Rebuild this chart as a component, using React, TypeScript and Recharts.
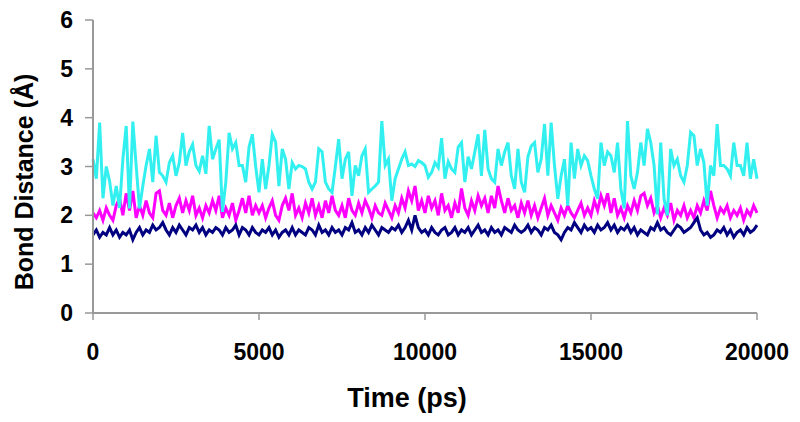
import React from 'react';
import { LineChart, Line, XAxis, YAxis } from 'recharts';

// time axis, one sample every 100 ps
const timePs: number[] = Array.from({ length: 201 }, (_, i) => i * 100);

const cyanSeries: number[] = [
  3.15, 2.75, 3.9, 2.35, 3.0, 2.7, 2.2, 2.6, 2.15, 3.15,
  3.83, 2.14, 3.92, 3.02, 2.14, 2.6, 3.02, 3.36, 2.68, 3.63,
  2.88, 2.81, 2.68, 3.08, 3.22, 2.81, 3.08, 3.69, 3.02, 3.3,
  3.45, 3.02, 2.9, 3.22, 2.85, 3.83, 3.15, 3.36, 3.55, 2.07,
  2.68, 3.69, 3.36, 3.49, 3.02, 3.02, 2.68, 3.4, 3.66, 3.0,
  2.47, 3.15, 2.54, 3.02, 3.66, 3.5, 2.6, 3.36, 3.15, 2.54,
  3.08, 2.95, 3.02, 3.0, 2.95, 2.68, 2.54, 2.68, 3.36, 3.3,
  2.68, 2.54, 2.47, 3.0, 3.56, 2.75, 3.15, 3.3, 2.4, 3.02,
  2.81, 3.22, 3.36, 2.47, 2.54, 2.6, 2.68, 3.93, 3.02, 3.15,
  2.3, 2.75, 2.95, 3.15, 3.3, 3.02, 3.05, 3.0, 3.12, 3.08,
  3.02, 2.78, 2.88, 3.08, 2.98, 3.58, 2.75, 3.1, 2.95, 2.88,
  3.4, 3.49, 2.68, 3.2, 2.95, 3.3, 3.66, 2.81, 3.75, 2.95,
  2.75, 2.68, 3.36, 3.02, 3.3, 3.49, 2.81, 2.54, 3.36, 2.68,
  2.47, 3.2, 3.42, 3.49, 2.88, 3.15, 3.87, 2.81, 3.9, 3.02,
  2.34, 2.81, 3.15, 2.2, 3.49, 2.75, 3.36, 3.02, 3.22, 3.12,
  2.81, 2.54, 2.34, 3.49, 3.02, 3.3, 3.22, 2.88, 3.49, 2.54,
  2.14, 3.93, 2.81, 2.54, 2.88, 3.49, 3.02, 3.77, 3.49, 3.02,
  2.02, 3.49, 2.34, 2.0, 3.36, 3.02, 3.15, 2.81, 2.68, 3.02,
  3.7, 3.63, 3.02, 3.36, 3.08, 2.2, 3.02, 2.81, 3.87, 3.02,
  3.02, 2.95, 2.81, 3.49, 3.02, 3.02, 2.81, 3.49, 2.75, 3.15,
  2.75,
];

const magentaSeries: number[] = [
  2.05, 1.95, 2.1, 1.9, 2.15, 2.0, 1.9, 2.2, 2.35, 2.0,
  2.45, 2.1, 2.5, 1.95, 2.2, 2.0, 2.3, 2.05, 1.95, 2.45,
  2.5, 2.1, 2.0, 2.25, 1.95, 2.2, 2.35, 2.05, 2.3, 2.1,
  2.4, 2.0, 2.15, 1.95, 2.2, 2.05, 2.3, 2.1, 2.4, 1.95,
  2.15, 2.0, 2.25, 1.9, 2.1, 2.35, 2.05, 2.4, 2.0, 2.2,
  2.05, 2.2, 1.95, 2.15, 2.3, 2.0, 1.9, 2.2, 2.35, 2.1,
  2.45, 2.0, 2.15, 1.95, 2.25, 2.05, 2.35, 2.0, 2.2, 1.95,
  2.3, 2.05, 2.4, 2.1, 2.0, 2.2, 1.95, 2.35, 2.1, 2.0,
  2.25, 2.05, 2.3, 2.15, 1.95, 2.2, 2.05, 2.0, 2.25, 2.1,
  1.95, 2.2, 2.05, 2.35, 2.15, 2.5, 2.3, 2.6, 2.1, 2.3,
  2.05, 2.4, 2.15, 2.3, 2.0, 2.45, 2.1, 2.2, 1.95, 2.25,
  2.05, 2.55, 2.15, 2.0, 2.3, 2.1, 2.4, 2.2, 2.35, 2.05,
  2.4, 2.15, 2.6, 2.3, 2.05, 2.35, 2.1, 2.2, 1.95, 2.25,
  2.05, 2.3, 2.0, 2.2, 1.95, 2.15, 2.35, 2.0, 2.2, 2.05,
  1.9, 2.15, 2.0, 2.2, 2.05, 1.95, 2.1, 2.25, 2.0, 2.15,
  2.0, 2.3, 2.1, 2.4, 2.2, 2.45, 2.05, 2.35, 2.0, 2.15,
  1.95, 2.2, 2.05, 2.3, 2.1, 2.4, 2.45, 2.2, 2.35, 2.05,
  2.2, 1.95, 2.15, 2.0, 2.25, 1.9, 2.1, 2.0, 2.2, 1.95,
  2.1, 1.95, 2.2, 2.05, 2.3, 2.1, 2.5, 2.2, 1.95, 2.15,
  2.05, 2.2, 1.95, 2.1, 2.0, 2.15, 1.9, 2.1, 2.0, 2.2,
  2.05,
];

const navySeries: number[] = [
  1.6, 1.7, 1.55, 1.65, 1.6, 1.75, 1.6, 1.7, 1.55, 1.65,
  1.6, 1.7, 1.5, 1.65, 1.75, 1.6, 1.7, 1.65, 1.8, 1.7,
  1.75, 1.85, 1.7, 1.6, 1.75, 1.65, 1.8, 1.7, 1.6, 1.75,
  1.7, 1.8, 1.65, 1.75, 1.6, 1.7, 1.65, 1.75, 1.7, 1.6,
  1.75, 1.65, 1.7, 1.8, 1.6, 1.75, 1.7, 1.6, 1.75, 1.65,
  1.6, 1.7, 1.65, 1.75, 1.6, 1.7, 1.55, 1.65, 1.7, 1.6,
  1.75, 1.6, 1.7, 1.65, 1.6, 1.75, 1.7, 1.6, 1.8, 1.65,
  1.7, 1.6, 1.75, 1.65, 1.7, 1.6, 1.75, 1.7, 1.85, 1.65,
  1.7, 1.6, 1.75, 1.65, 1.8, 1.7, 1.6, 1.75, 1.7, 1.65,
  1.75, 1.7, 1.8, 1.65, 1.75, 1.9, 1.7, 2.0, 1.75, 1.65,
  1.7, 1.6, 1.75, 1.65, 1.6, 1.7, 1.75, 1.6, 1.65, 1.75,
  1.6, 1.7, 1.65, 1.75, 1.6, 1.7, 1.8, 1.65, 1.7, 1.6,
  1.75, 1.65, 1.7, 1.6, 1.75, 1.7, 1.65, 1.8, 1.7, 1.65,
  1.7, 1.8, 1.65, 1.75, 1.7, 1.6, 1.75, 1.7, 1.8, 1.65,
  1.6, 1.5, 1.65, 1.75, 1.7, 1.85, 1.75, 1.65, 1.8, 1.7,
  1.75, 1.65, 1.8, 1.7, 1.75, 1.85, 1.7, 1.8, 1.65, 1.75,
  1.7, 1.8, 1.65, 1.75, 1.6, 1.7, 1.65, 1.6, 1.75, 1.7,
  1.85, 1.7, 1.75, 1.65, 1.6, 1.7, 1.8, 1.75, 1.65, 1.7,
  1.75, 1.85, 1.95, 1.7, 1.6, 1.65, 1.55, 1.6, 1.7, 1.65,
  1.75, 1.6, 1.7, 1.55, 1.65, 1.7, 1.6, 1.75, 1.65, 1.7,
  1.8,
];

const xTicks = [0, 5000, 10000, 15000, 20000];
const yTicks = [0, 1, 2, 3, 4, 5, 6];

const FONT = '"Liberation Sans", Arial, sans-serif';
const AXIS_COLOR = '#999999';

const data = timePs.map((t, i) => ({
  time: t,
  cyan: cyanSeries[i],
  magenta: magentaSeries[i],
  navy: navySeries[i],
}));

// axis titles drawn as plain svg text
const XTitle = () => (
  <text x={407} y={407} textAnchor="middle" fontFamily={FONT} fontWeight="bold" fontSize={27} fill="#000">
    Time (ps)
  </text>
);

const YTitle = () => (
  <text
    transform="translate(33,182) rotate(-90)"
    textAnchor="middle"
    fontFamily={FONT}
    fontWeight="bold"
    fontSize={25}
    fill="#000"
  >
    Bond Distance (Å)
  </text>
);

const tickStyle = { fontFamily: FONT, fontWeight: 'bold', fontSize: 23, fill: '#000' };

const App: React.FC = () => {
  return (
    <div style={{ position: 'absolute', left: 0, top: 0, width: 800, height: 422, background: '#fff' }}>
      <LineChart width={800} height={422} data={data} margin={{ top: 20, right: 43, left: 0, bottom: 0 }}>
        <XAxis
          dataKey="time"
          type="number"
          domain={[0, 20000]}
          ticks={xTicks}
          height={109}
          tickSize={7}
          tickMargin={24}
          tick={tickStyle}
          stroke={AXIS_COLOR}
          strokeWidth={2}
          tickLine={{ stroke: AXIS_COLOR, strokeWidth: 1.5 }}
          interval={0}
          label={<XTitle />}
        />
        <YAxis
          type="number"
          domain={[0, 6]}
          ticks={yTicks}
          width={93}
          tickSize={8}
          tickMargin={12}
          tick={tickStyle}
          stroke={AXIS_COLOR}
          strokeWidth={2}
          tickLine={{ stroke: AXIS_COLOR, strokeWidth: 1.5 }}
          interval={0}
          label={<YTitle />}
        />
        <Line dataKey="magenta" stroke="#FF00FF" strokeWidth={3} dot={false} isAnimationActive={false} />
        <Line dataKey="navy" stroke="#000080" strokeWidth={3} dot={false} isAnimationActive={false} />
        <Line dataKey="cyan" stroke="#33F0F0" strokeWidth={3} dot={false} isAnimationActive={false} />
      </LineChart>
    </div>
  );
};

export default App;
